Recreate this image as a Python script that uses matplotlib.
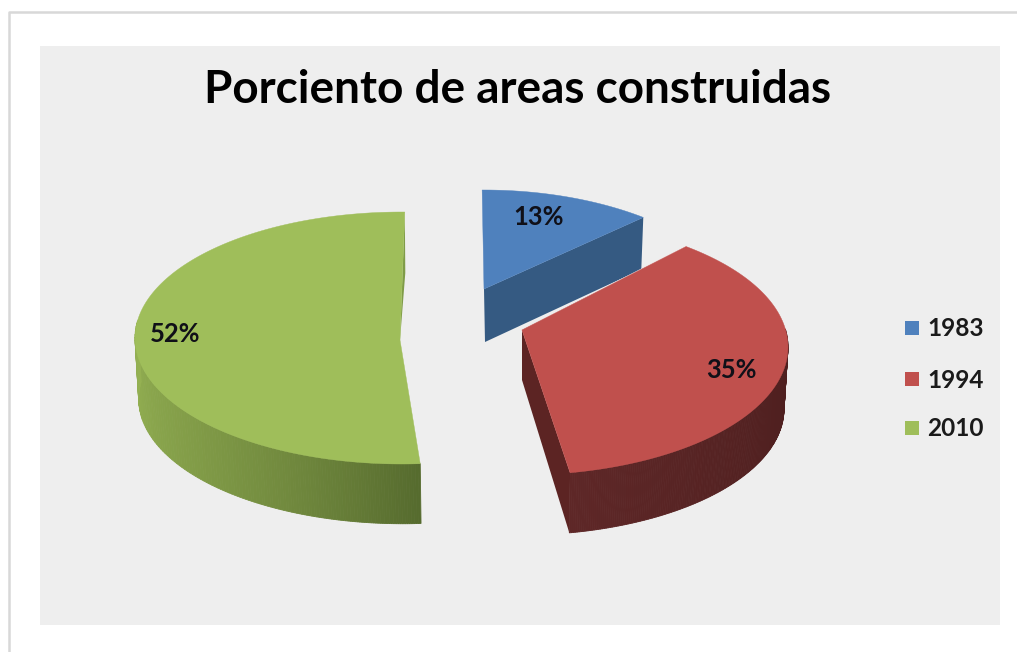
import numpy as np
import matplotlib
matplotlib.use("Agg")
import matplotlib.pyplot as plt
from matplotlib.patches import Rectangle
from matplotlib.colors import to_rgb

title = "Porciento de areas construidas"
years = ["1983", "1994", "2010"]
percent = [13, 35, 52]

top_colors = ["#4f81bd", "#c0504d", "#9fbe5a"]
cut_colors = ["#355a82", "#5c2423", "#7f9c47"]
# wall shade at the first and last visible rim position of each slice
wall_stops = [None, ("#4c1e1e", "#5e2727"), ("#566b2e", "#95b253")]

# projection style of each exploded slice (pixels of the figure)
style = [
    dict(apex=(484, 289), centre=(484, 330), r=(268, 140), k=1.42, rot=-0.4, depth=53, rim_depth=52, shrink=1.0, dx=-2),
    dict(apex=(522, 330), centre=(520, 347), r=(268, 128), k=1.15, rot=-4.5, depth=50, rim_depth=62, shrink=0.985, dx=0),
    dict(apex=(400, 340), centre=(402, 338), r=(267, 126), k=1.60, rot=0.6, depth=60, rim_depth=61, shrink=0.99, dx=1),
]
label_xy = [(539, 217), (731, 370), (175, 334)]
legend_y = [328, 379, 428]

fig = plt.figure(figsize=(10.17, 6.52), dpi=100, facecolor="white")
ax = fig.add_axes([0, 0, 1, 1])
ax.set_xlim(0, 1017)
ax.set_ylim(652, 0)
ax.axis("off")
plt.rcParams["font.family"] = ["Lato", "DejaVu Sans"]

# frame and panel
ax.plot([8.5, 8.5, 1017], [652, 12, 12], color="#d8d8d8", lw=1.8, zorder=1)
ax.add_patch(Rectangle((40, 46), 960, 579, facecolor="#eeeeee", edgecolor="none", zorder=1))


def warp(theta_deg, k, rot):
    th = np.radians(theta_deg)
    raw = np.arctan2(np.sin(th), k * np.cos(th))
    turns = np.round((th - raw) / (2 * np.pi))
    return raw + 2 * np.pi * turns + np.radians(rot)


def rim(s, t, lower=False):
    cx, cy = s["centre"]
    rx, ry = s["r"]
    if lower:
        rx2, ry2 = rx * s["shrink"], ry * s["shrink"]
        return cx + s["dx"] + rx2 * np.sin(t), cy - ry2 * np.cos(t) + s["rim_depth"]
    return cx + rx * np.sin(t), cy - ry * np.cos(t)


def draw_slice(i, z):
    s = style[i]
    start = 360 * sum(percent[:i]) / 100
    stop = 360 * sum(percent[:i + 1]) / 100
    t = warp(np.linspace(start, stop, 240), s["k"], s["rot"])
    px, py = s["apex"]
    x, y = rim(s, t)
    xb, yb = rim(s, t, lower=True)

    # outer wall, shaded along the rim
    if wall_stops[i] is not None:
        c0, c1 = (to_rgb(c) for c in wall_stops[i])
        vis = np.where(np.cos(t) < 0.15)[0]
        lo, hi = vis.min(), vis.max()
        for j in range(lo, hi):
            f = (j - lo) / max(hi - lo, 1)
            col = tuple(a + (b - a) * f for a, b in zip(c0, c1))
            ax.fill([x[j], x[j + 1], xb[j + 1], xb[j]], [y[j], y[j + 1], yb[j + 1], yb[j]],
                    color=col, lw=0.6, zorder=z)

    # radial cut wall
    if i == 2:
        ax.fill([px, x[-1], x[-1] + 0.5], [py, y[-1], y[-1] + s["rim_depth"]],
                color=cut_colors[i], lw=0, zorder=z)
    else:
        ax.fill([px, x[-1] if i == 0 else x[-1], xb[-1], px + (1 if i == 0 else 0)],
                [py, y[-1], yb[-1], py + s["depth"]],
                color=cut_colors[i], lw=0, zorder=z)

    # top face
    ax.fill(np.r_[px, x], np.r_[py, y], color=top_colors[i], lw=0.3, zorder=z + 1)
    if i == 1:
        ax.plot([px, x[0]], [py, y[0]], color="#f0dede", lw=1.0, zorder=z - 0.5)
    ax.text(*label_xy[i], f"{percent[i]}%", ha="center", va="center", fontsize=18.4,
            fontweight="bold", color="#101018", zorder=20)


draw_slice(0, 3)
draw_slice(2, 5)
draw_slice(1, 7)

ax.text(518, 90, title, ha="center", va="center", fontsize=33, fontweight="bold", color="black", zorder=20)

for yr, col, yy in zip(years, top_colors, legend_y):
    ax.add_patch(Rectangle((905, yy - 7), 14, 14, facecolor=col, edgecolor="none", zorder=10))
    ax.text(927, yy + 1, yr, ha="left", va="center", fontsize=17.6, fontweight="bold", color="#1a1a1a", zorder=20)

fig.savefig("out.png", dpi=100, facecolor="white")
